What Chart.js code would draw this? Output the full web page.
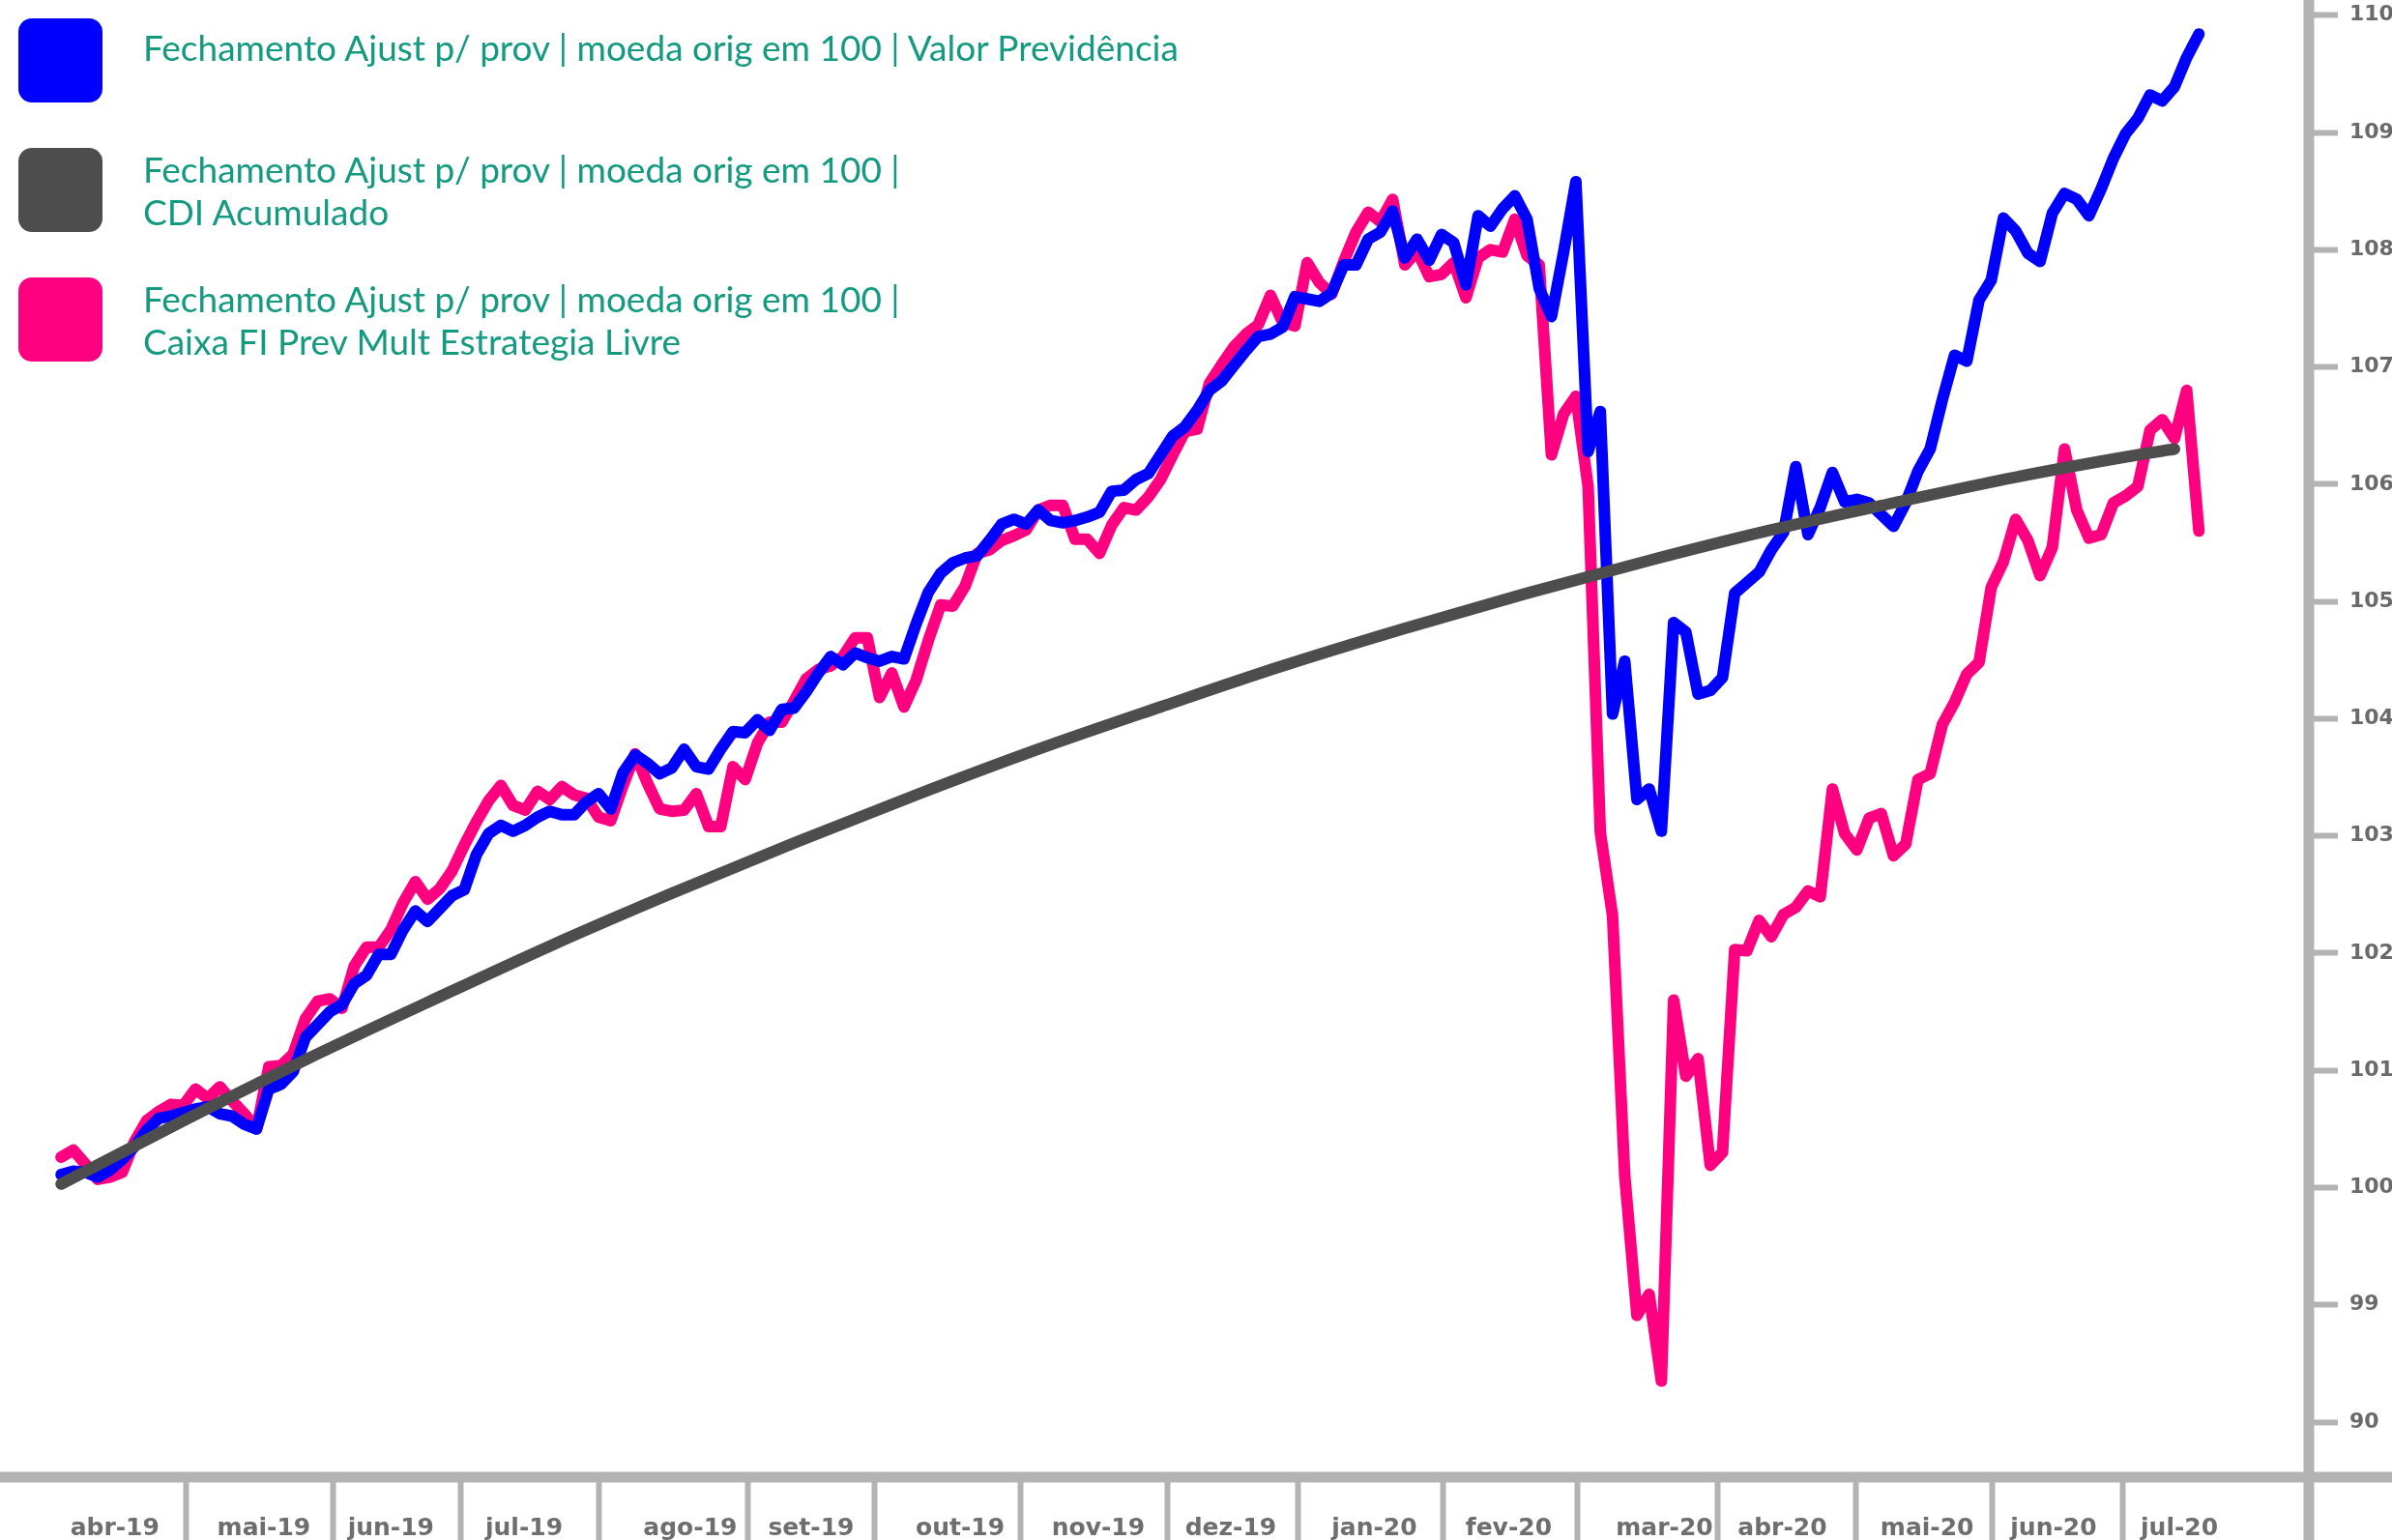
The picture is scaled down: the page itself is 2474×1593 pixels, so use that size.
<!DOCTYPE html>
<html>
<head>
<meta charset="utf-8">
<script src="https://cdn.jsdelivr.net/npm/chart.js@4.4.1/dist/chart.umd.min.js"></script>
<style>
  html, body { margin: 0; padding: 0; background: #fff; }
  #wrap { position: relative; width: 2474px; height: 1593px; overflow: hidden; }
  #chart { display: block; }
  #legend { position: absolute; left: 0; top: 0; font-family: Lato, sans-serif; font-size: 37px; color: #149a80; }
  .item { position: absolute; left: 19px; }
  .box { position: absolute; left: 0; top: 0; width: 87px; height: 87px; border-radius: 14px; }
  .txt { position: absolute; left: 129px; line-height: 44px; white-space: pre; }
</style>
</head>
<body>
<div id="wrap">
  <canvas id="chart" width="2474" height="1593"></canvas>
  <div id="legend"></div>
</div>
<script>
const months = ["abr-19", "mai-19", "jun-19", "jul-19", "ago-19", "set-19", "out-19", "nov-19",
    "dez-19", "jan-20", "fev-20", "mar-20", "abr-20", "mai-20", "jun-20", "jul-20"];
// point index where each month starts (mai-19 onwards)
const monthStart = [10.25, 22.25, 32.75, 44, 56.25, 66.6, 78.5, 90.6, 101.25, 113.1, 124.1, 135.6, 146.9, 158.1, 168.75];
// point index under each month name
const monthLabelAt = [4.4, 16.6, 27, 37.9, 51.5, 61.4, 73.6, 84.9, 95.75, 107.5, 118.5, 131.25, 140.9, 152.75, 163.1, 173.4];

const yTickValues = [98, 99, 100, 101, 102, 103, 104, 105, 106, 107, 108, 109, 110];
const yTickLabels = ["90", "99", "100", "101", "102", "103", "104", "105", "106", "107", "108", "109", "110"];

const valorPrev = [
    100.11, 100.14, 100.13, 100.09, 100.15, 100.24, 100.35, 100.49, 100.59, 100.61,
    100.64, 100.67, 100.69, 100.63, 100.61, 100.54, 100.50, 100.84, 100.88, 100.99,
    101.28, 101.39, 101.50, 101.56, 101.74, 101.81, 101.99, 101.99, 102.20, 102.36,
    102.27, 102.38, 102.49, 102.54, 102.84, 103.02, 103.09, 103.04, 103.09, 103.16,
    103.21, 103.18, 103.18, 103.29, 103.36, 103.23, 103.54, 103.69, 103.62, 103.53,
    103.58, 103.74, 103.59, 103.57, 103.74, 103.89, 103.88, 103.99, 103.90, 104.08,
    104.09, 104.23, 104.39, 104.53, 104.46, 104.56, 104.52, 104.49, 104.53, 104.51,
    104.81, 105.08, 105.24, 105.33, 105.37, 105.39, 105.52, 105.66, 105.70, 105.66,
    105.78, 105.69, 105.67, 105.69, 105.72, 105.76, 105.94, 105.95, 106.04, 106.09,
    106.25, 106.41, 106.49, 106.63, 106.80, 106.88, 107.01, 107.14, 107.26, 107.28,
    107.34, 107.60, 107.58, 107.56, 107.63, 107.87, 107.87, 108.09, 108.15, 108.33,
    107.93, 108.09, 107.91, 108.13, 108.06, 107.70, 108.29, 108.20, 108.35, 108.46,
    108.26, 107.67, 107.43, 107.98, 108.58, 106.28, 106.62, 104.04, 104.49, 103.31,
    103.40, 103.04, 104.82, 104.74, 104.21, 104.24, 104.35, 105.07, 105.16, 105.25,
    105.44, 105.59, 106.15, 105.57, 105.80, 106.10, 105.85, 105.87, 105.84, 105.74,
    105.64, 105.84, 106.11, 106.30, 106.72, 107.10, 107.05, 107.57, 107.74, 108.27,
    108.16, 107.97, 107.90, 108.31, 108.48, 108.43, 108.29, 108.52, 108.78, 108.99,
    109.12, 109.32, 109.27, 109.39, 109.64, 109.84
];

const caixaPrev = [
    100.26, 100.32, 100.20, 100.07, 100.09, 100.13, 100.39, 100.57, 100.65, 100.71,
    100.70, 100.84, 100.76, 100.86, 100.74, 100.63, 100.50, 101.03, 101.04, 101.14,
    101.44, 101.59, 101.61, 101.53, 101.89, 102.05, 102.05, 102.20, 102.43, 102.61,
    102.46, 102.55, 102.70, 102.92, 103.12, 103.30, 103.43, 103.26, 103.22, 103.38,
    103.31, 103.42, 103.35, 103.32, 103.16, 103.13, 103.43, 103.70, 103.45, 103.23,
    103.21, 103.22, 103.36, 103.08, 103.08, 103.59, 103.48, 103.79, 103.97, 103.97,
    104.15, 104.34, 104.42, 104.45, 104.53, 104.69, 104.69, 104.18, 104.39, 104.10,
    104.33, 104.67, 104.97, 104.96, 105.13, 105.41, 105.44, 105.52, 105.56, 105.61,
    105.78, 105.82, 105.82, 105.53, 105.53, 105.41, 105.65, 105.80, 105.78, 105.89,
    106.04, 106.25, 106.45, 106.47, 106.86, 107.02, 107.17, 107.28, 107.36, 107.61,
    107.38, 107.35, 107.89, 107.72, 107.62, 107.90, 108.15, 108.32, 108.24, 108.43,
    107.87, 107.99, 107.77, 107.79, 107.89, 107.59, 107.93, 108.00, 107.98, 108.26,
    107.95, 107.87, 106.25, 106.60, 106.75, 105.98, 103.03, 102.32, 100.10, 98.91,
    99.09, 98.35, 101.60, 100.95, 101.10, 100.19, 100.30, 102.03, 102.02, 102.28,
    102.14, 102.33, 102.39, 102.53, 102.48, 103.40, 103.02, 102.88, 103.15, 103.19,
    102.83, 102.93, 103.48, 103.53, 103.95, 104.14, 104.38, 104.48, 105.12, 105.34,
    105.70, 105.52, 105.22, 105.46, 106.30, 105.78, 105.54, 105.57, 105.84, 105.90,
    105.98, 106.46, 106.55, 106.39, 106.80, 105.60
];

// CDI is a smooth curve, read at every 10th point
const cdiAt = [0, 10, 20, 30, 40, 50, 60, 70, 80, 90, 100, 110, 120, 130, 140, 150, 160, 170, 173];
const cdiAcum = [100.03, 100.57, 101.09, 101.58, 102.06, 102.51, 102.94, 103.35, 103.74, 104.10,
    104.45, 104.77, 105.07, 105.35, 105.61, 105.84, 106.06, 106.25, 106.30];

const labels = [
    "Fechamento Ajust p/ prov | moeda orig em 100 | Valor Previdência",
    "Fechamento Ajust p/ prov | moeda orig em 100 |\nCDI Acumulado",
    "Fechamento Ajust p/ prov | moeda orig em 100 |\nCaixa FI Prev Mult Estrategia Livre"
];
const colors = ["#0000ff", "#4d4d4d", "#ff0080"];

const axisGray = "#b3b3b3";

const axisBars = {
    id: "axisBars",
    afterDraw(chart) {
        const { ctx, chartArea, width, height } = chart;
        ctx.save();
        ctx.strokeStyle = axisGray;
        ctx.lineWidth = 11;
        ctx.beginPath();
        ctx.moveTo(0, chartArea.bottom);
        ctx.lineTo(width, chartArea.bottom);
        ctx.moveTo(chartArea.right, 0);
        ctx.lineTo(chartArea.right, height);
        ctx.stroke();
        ctx.restore();
    },
};

const xTicks = monthStart.map((v) => ({ value: v, edge: true }))
    .concat(monthLabelAt.map((v, i) => ({ value: v, name: months[i] })))
    .sort((a, b) => a.value - b.value);

const lineStyle = {
    borderWidth: 12,
    pointRadius: 0,
    borderJoinStyle: "round",
    borderCapStyle: "round",
    fill: false,
};

const ctx = document.getElementById("chart").getContext("2d");

const chart = new Chart(ctx, {
    type: "line",
    data: {
        datasets: [
            {
                label: labels[0],
                data: valorPrev.map((v, i) => ({ x: i, y: v })),
                borderColor: colors[0],
                backgroundColor: colors[0],
                order: 1,
                ...lineStyle,
            },
            {
                label: labels[1],
                data: cdiAcum.map((v, i) => ({ x: cdiAt[i], y: v })),
                borderColor: colors[1],
                backgroundColor: colors[1],
                cubicInterpolationMode: "monotone",
                order: 0,
                ...lineStyle,
            },
            {
                label: labels[2],
                data: caixaPrev.map((v, i) => ({ x: i, y: v })),
                borderColor: colors[2],
                backgroundColor: colors[2],
                order: 2,
                ...lineStyle,
            },
        ],
    },
    options: {
        responsive: false,
        animation: false,
        devicePixelRatio: 1,
        layout: { padding: 0 },
        plugins: {
            legend: { display: false },
            tooltip: { enabled: false },
        },
        scales: {
            x: {
                type: "linear",
                min: -5,
                max: 184,
                border: { display: false },
                grid: {
                    drawOnChartArea: false,
                    drawTicks: true,
                    tickLength: 65,
                    tickWidth: 6,
                    tickColor: (c) => (c.tick && c.tick.edge ? axisGray : "rgba(0,0,0,0)"),
                },
                ticks: {
                    autoSkip: false,
                    maxRotation: 0,
                    padding: -27,
                    color: "#6e6e6e",
                    font: { family: "DejaVu Sans", weight: "bold", size: 25 },
                    callback: function (value, index, ticks) {
                        return ticks[index].name || "";
                    },
                },
                afterBuildTicks: (scale) => {
                    scale.ticks = xTicks.map((t) => ({ ...t }));
                },
                afterFit: (scale) => {
                    scale.height = 65;
                    scale.paddingLeft = 0;
                    scale.paddingRight = 0;
                },
            },
            y: {
                type: "linear",
                position: "right",
                min: 97.53,
                max: 110.13,
                border: { display: false },
                grid: {
                    drawOnChartArea: false,
                    drawTicks: true,
                    tickLength: 30,
                    tickWidth: 6,
                    tickColor: axisGray,
                },
                ticks: {
                    padding: 12,
                    color: "#6a6a6a",
                    font: { family: "DejaVu Sans", weight: "bold", size: 22 },
                    callback: (value) => yTickLabels[yTickValues.indexOf(value)],
                },
                afterBuildTicks: (scale) => {
                    scale.ticks = yTickValues.map((v) => ({ value: v }));
                },
                afterFit: (scale) => {
                    scale.width = 86;
                    scale.paddingTop = 0;
                    scale.paddingBottom = 0;
                },
            },
        },
    },
    plugins: [axisBars],
});

// legend drawn as html on top of the plot
const legendTops = [19, 153, 287];
const textTops = [8, 0, 0];
const legend = document.getElementById("legend");
labels.forEach((text, i) => {
    const item = document.createElement("div");
    item.className = "item";
    item.style.top = legendTops[i] + "px";
    const box = document.createElement("div");
    box.className = "box";
    box.style.background = colors[i];
    const txt = document.createElement("div");
    txt.className = "txt";
    txt.style.top = textTops[i] + "px";
    txt.textContent = text;
    item.appendChild(box);
    item.appendChild(txt);
    legend.appendChild(item);
});
</script>
</body>
</html>
